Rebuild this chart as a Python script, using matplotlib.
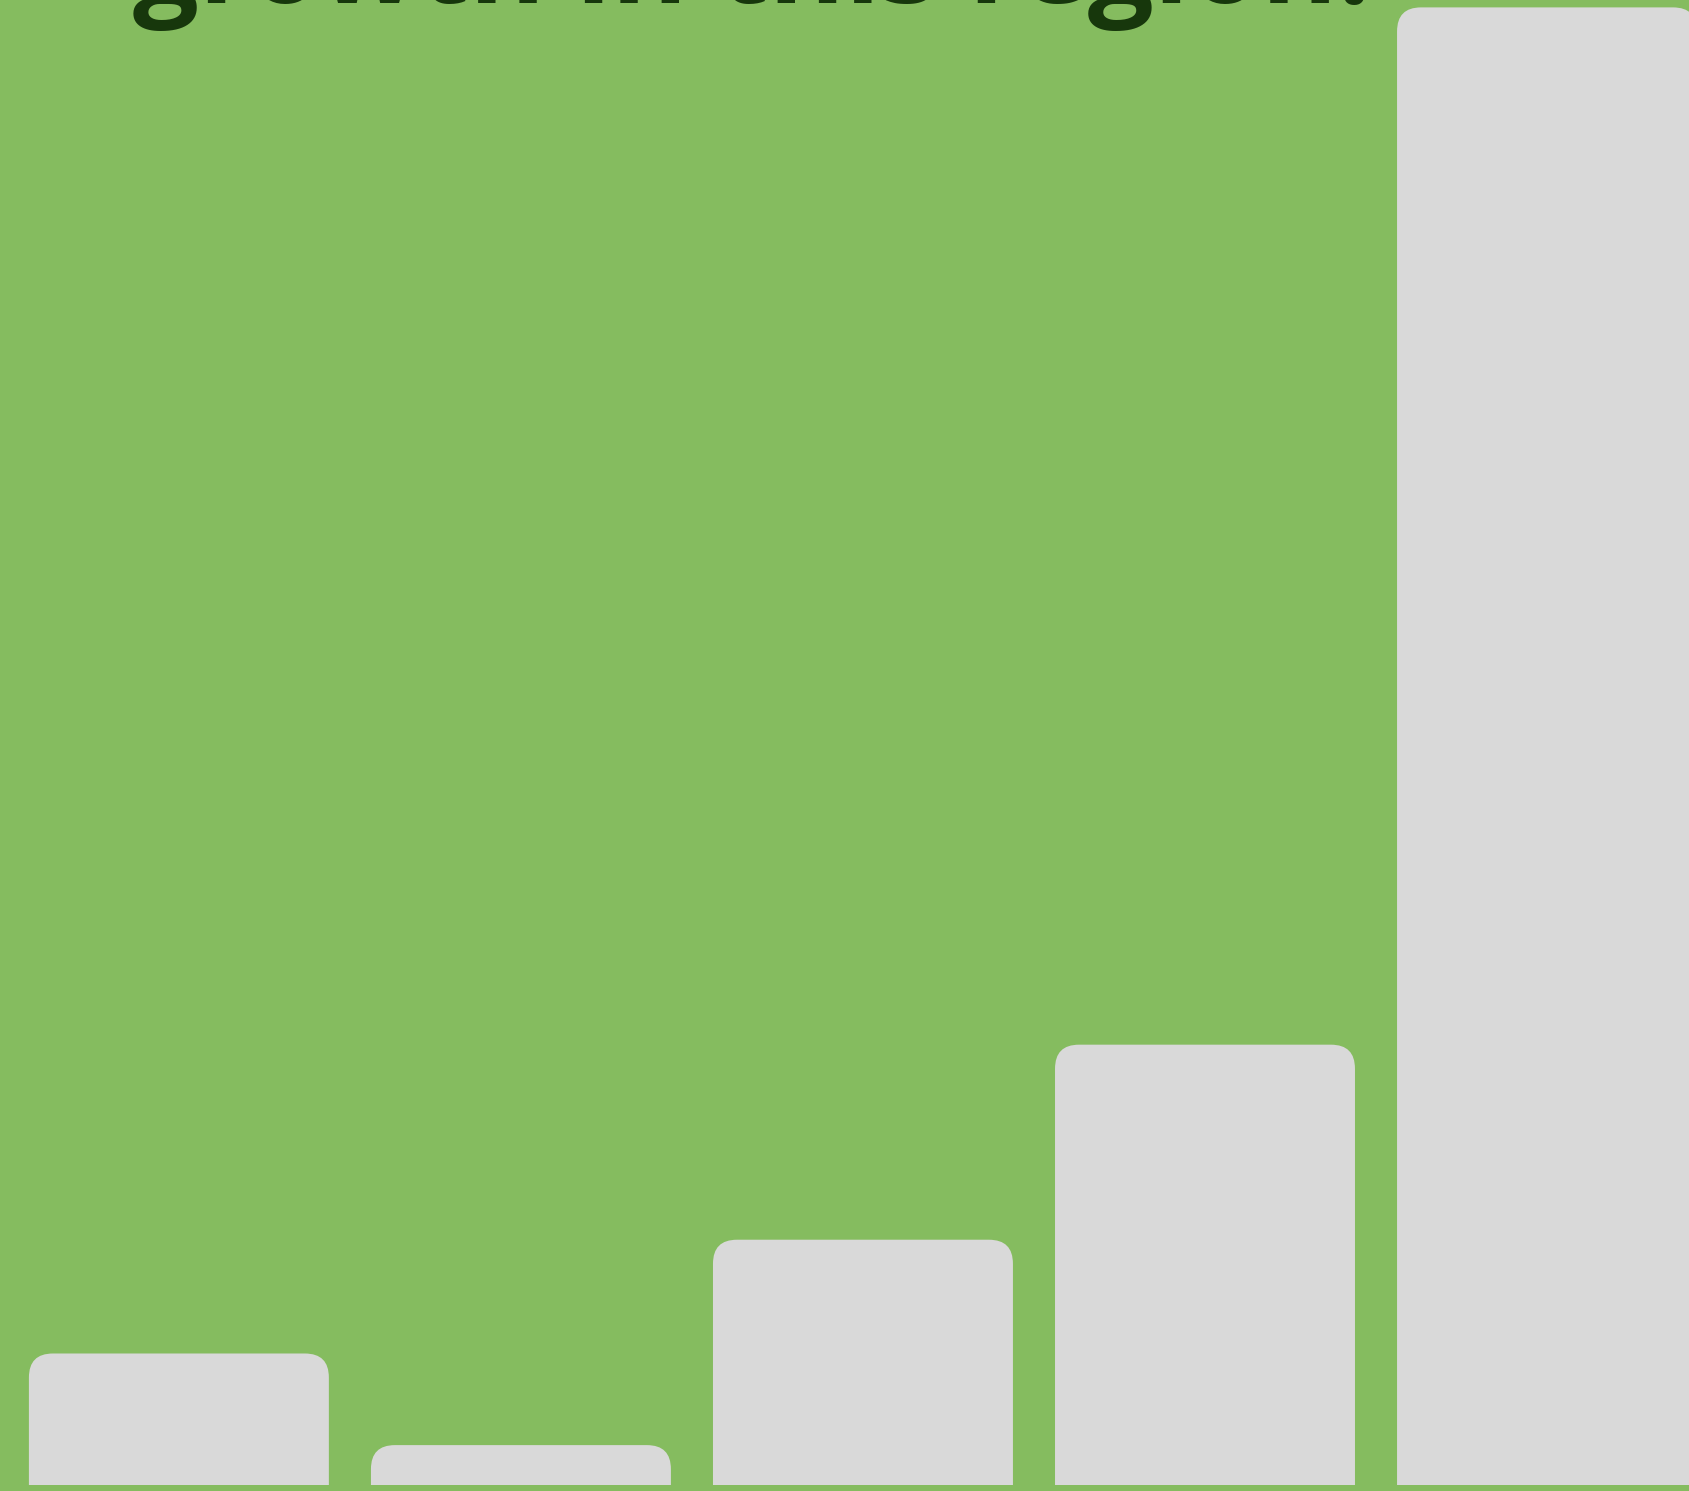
import matplotlib
matplotlib.use("Agg")
import matplotlib.pyplot as plt
from matplotlib.patches import FancyBboxPatch

categories = ["A", "B", "C", "D", "E"]
values = [8.9, 2.7, 16.6, 29.8, 100]
title_text = "growth in this region."

BG = "#85bc5f"
BAR = "#d9d9d9"
TXT = "#17370c"

W, H = 1690, 1491
fig = plt.figure(figsize=(W / 100, H / 100), dpi=100)
fig.patch.set_facecolor(BG)
ax = fig.add_axes([0, 6 / H, 1, 1485 / H])
ax.set_facecolor(BG)
ax.set_xlim(-0.523, 4.418)
ax.set_ylim(0, 100.5)
ax.axis("off")

x = list(range(len(categories)))
bars = ax.bar(x, values, width=0.877, color=BAR)

# rounded top corners
px_x = 1690 / (4.418 + 0.523)
px_y = 1485 / 100.5
r_px = 24
rx = r_px / px_x
ry = r_px / px_y
for b in bars:
    bx, bw, bh = b.get_x(), b.get_width(), b.get_height()
    b.set_visible(False)
    p = FancyBboxPatch((bx, -ry * 2), bw, bh + ry * 2,
                       boxstyle=f"round,pad=0,rounding_size={rx}",
                       mutation_aspect=ry / rx,
                       facecolor=BAR, edgecolor="none", clip_on=True)
    ax.add_patch(p)

t = fig.text(133 / W, 1 - 3 / H, title_text, ha="left", va="baseline",
             fontsize=84, fontweight="bold", family="Open Sans",
             color=TXT)
# fit title width to reference span (133 -> 1370 px)
fig.canvas.draw()
bb = t.get_window_extent()
t.set_fontsize(84 * (1370 - 133) / bb.width)

fig.savefig("out.png", dpi=100, facecolor=BG)
